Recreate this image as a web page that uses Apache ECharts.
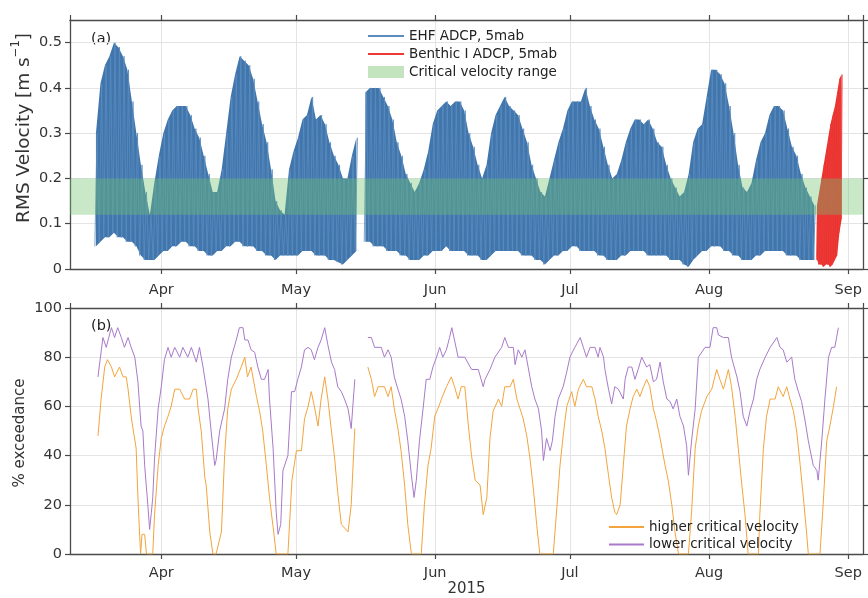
<!DOCTYPE html>
<html><head><meta charset="utf-8">
<script src="https://cdn.jsdelivr.net/npm/echarts@6.0.0/dist/echarts.min.js"></script>
<style>html,body{margin:0;padding:0;background:#fff}#c{width:868px;height:598px}</style>
</head><body><div id="c"></div>
<script>
// day numbers are days since 2015-03-01 00:00 UTC
const DAY0 = Date.UTC(2015, 2, 1);
const axisStartDay = 10.67, axisEndDay = 187.28;

// EHF ADCP (blue): one daily envelope value pair per day, starting day 16.2
const blueStartDay = 16.2;
const blueMax = [
 0.30,0.41,0.45,0.47,0.50,0.49,0.47,0.44,0.37,0.30,
 0.23,0.17,0.12,0.19,0.25,0.30,0.33,0.35,0.36,0.36,
 0.36,0.34,0.31,0.29,0.25,0.21,0.17,0.17,0.22,0.30,
 0.38,0.43,0.47,0.46,0.45,0.42,0.37,0.32,0.28,0.22,
 0.15,0.13,0.12,0.22,0.26,0.29,0.33,0.34,0.38,0.33,
 0.34,0.32,0.28,0.25,0.23,0.20,0.20,0.25,0.29,null,
 0.39,0.40,0.40,0.40,0.38,0.36,0.33,0.28,0.25,0.21,
 0.19,0.17,0.19,0.22,0.26,0.32,0.35,0.36,0.37,0.36,
 0.37,0.37,0.35,0.30,0.27,0.23,0.20,0.23,0.30,0.34,
 0.36,0.38,0.36,0.35,0.34,0.31,0.28,0.23,0.20,0.17,
 0.16,0.20,0.24,0.28,0.31,0.35,0.37,0.37,0.37,0.40,
 0.36,0.33,0.31,0.27,0.23,0.20,0.21,0.24,0.28,0.31,
 0.33,0.33,0.32,0.33,0.31,0.28,0.27,0.23,0.20,0.18,
 0.16,0.17,0.21,0.28,0.31,0.32,0.38,0.44,0.44,0.43,
 0.41,0.36,0.30,0.23,0.18,0.17,0.19,0.24,0.28,0.30,
 0.34,0.36,0.36,0.35,0.31,0.27,0.25,0.21,0.18,0.16,
 0.14];
const blueMin = [
 0.05,0.06,0.07,0.07,0.08,0.07,0.07,0.06,0.06,0.05,
 0.03,0.02,0.02,0.02,0.03,0.04,0.04,0.05,0.05,0.06,
 0.06,0.05,0.05,0.04,0.04,0.03,0.03,0.04,0.04,0.05,
 0.05,0.06,0.06,0.05,0.05,0.05,0.04,0.04,0.03,0.03,
 0.02,0.03,0.03,0.03,0.03,0.03,0.04,0.04,0.04,0.03,
 0.03,0.03,0.02,0.02,0.015,0.01,0.02,0.03,0.04,null,
 0.06,0.06,0.05,0.05,0.05,0.04,0.04,0.04,0.03,0.03,
 0.02,0.02,0.02,0.03,0.03,0.04,0.04,0.04,0.05,0.04,
 0.04,0.04,0.04,0.03,0.03,0.03,0.02,0.02,0.03,0.04,
 0.04,0.04,0.04,0.04,0.04,0.03,0.03,0.03,0.02,0.02,
 0.01,0.02,0.03,0.03,0.04,0.04,0.05,0.05,0.04,0.04,
 0.04,0.04,0.03,0.03,0.02,0.02,0.02,0.03,0.03,0.04,
 0.04,0.04,0.04,0.03,0.03,0.03,0.03,0.03,0.02,0.02,
 0.02,0.01,0.005,0.02,0.03,0.04,0.04,0.05,0.05,0.05,
 0.04,0.04,0.03,0.03,0.02,0.02,0.02,0.03,0.03,0.04,
 0.04,0.04,0.04,0.04,0.03,0.03,0.03,0.02,0.02,0.02,
 0.02];

// Benthic I ADCP (red): half-day envelope values
const redStartDay = 176.9, redStep = 0.5;
const redMax = [0.14,0.17,0.20,0.23,0.26,0.29,0.32,0.34,0.36,0.39,0.42,0.43];
const redMin = [0.02,0.01,0.01,0.005,0.01,0.01,0.005,0.01,0.02,0.03,0.08,0.11];

const criticalRange = [0.12, 0.20];

// % exceedance, [day, value]
const higherCritical = [[16.9,48],[17.6,63],[18.4,76],[19.0,79],[19.9,76],[20.6,72],[21.7,76],[22.5,72],[23.2,72],[23.6,67],[24.3,56],[24.7,51],[25.1,51],[25.4,43],[25.8,23],[26.2,7],[26.4,0],[26.7,8],[27.3,8],[27.7,0],[29.1,0],[29.5,16],[30.3,36],[31.0,47],[31.7,52],[32.5,56],[33.2,60],[34.0,67],[35.1,67],[36.2,63],[37.3,63],[38.1,67],[38.8,67],[39.2,59],[39.9,50],[40.7,31],[41.0,28],[41.8,9],[42.5,0],[43.2,0],[44.4,9],[45.1,40],[45.8,59],[46.6,67],[47.7,71],[48.8,76],[49.6,80],[50.2,72],[51.0,76],[51.8,68],[52.2,64],[52.9,58],[53.6,50],[54.4,36],[55.1,23],[55.9,11],[56.6,0],[59.2,0],[60.1,30],[61.1,42],[62.2,42],[62.9,55],[63.7,60],[64.4,66],[65.1,60],[65.9,52],[66.6,63],[67.4,72],[68.1,63],[68.9,50],[69.6,39],[70.3,25],[71.1,12],[72.6,9],[73.3,20],[74.1,51],[75.5,null],[77.0,76],[77.8,71],[78.5,64],[79.3,68],[80.7,68],[81.5,64],[82.2,68],[82.9,59],[83.7,51],[84.4,42],[85.2,28],[85.9,12],[86.7,0],[88.9,0],[89.6,20],[90.4,36],[91.1,43],[91.9,56],[92.6,59],[93.4,63],[94.5,68],[95.6,72],[96.3,68],[97.1,63],[97.8,68],[98.6,68],[99.4,52],[100.1,40],[100.9,30],[102.0,28],[102.7,16],[103.5,23],[104.2,47],[104.9,58],[106.1,63],[106.8,60],[107.5,68],[108.7,68],[109.4,71],[110.2,63],[110.9,59],[111.6,55],[112.4,48],[113.1,39],[113.9,26],[114.6,12],[115.3,0],[118.3,0],[119.1,19],[119.8,36],[120.5,48],[121.3,60],[122.4,66],[123.1,60],[123.9,67],[125.0,71],[125.7,68],[126.9,68],[127.6,63],[128.3,56],[129.1,50],[129.8,43],[130.6,32],[131.3,23],[132.0,17],[132.4,16],[133.2,20],[133.9,36],[134.6,52],[135.4,59],[136.1,64],[136.9,67],[137.6,64],[138.4,68],[139.1,71],[139.8,68],[140.6,59],[141.3,54],[142.1,47],[143.2,36],[143.9,30],[144.7,20],[145.4,9],[146.2,0],[148.4,0],[149.1,17],[149.9,43],[150.6,52],[151.3,58],[152.5,64],[153.6,67],[154.7,75],[155.4,71],[156.2,67],[157.3,75],[158.0,68],[158.8,56],[159.5,43],[160.3,28],[161.0,16],[161.7,0],[164.0,0],[164.3,16],[165.1,43],[165.8,56],[166.6,63],[167.7,63],[168.4,68],[169.5,64],[170.3,68],[171.0,63],[171.8,58],[172.5,50],[173.3,36],[174.0,23],[174.7,9],[175.1,0],[177.7,0],[178.4,20],[179.2,46],[179.9,52],[180.7,60],[181.4,68]];

const lowerCritical = [[16.9,72],[18.0,88],[18.75,84],[19.3,88],[19.9,92],[20.6,88],[21.3,92],[22.1,88],[22.8,84],[23.6,88],[24.3,84],[25.1,80],[25.8,70],[26.5,52],[26.9,50],[27.3,36],[28.0,20],[28.4,10],[28.8,17],[29.1,23],[29.5,39],[30.3,59],[31.0,68],[31.7,79],[32.5,84],[33.2,80],[34.0,84],[35.1,80],[35.8,84],[36.9,80],[37.7,84],[38.8,78],[39.5,84],[40.3,76],[41.4,63],[42.1,50],[42.9,36],[43.2,38],[44.0,50],[45.1,59],[45.8,71],[46.6,80],[47.7,87],[48.4,92],[49.2,92],[49.6,87],[50.3,87],[51.0,83],[51.8,82],[52.5,76],[53.3,71],[54.0,71],[54.8,75],[55.1,63],[55.9,43],[56.6,17],[57.0,8],[57.6,12],[58.1,34],[59.2,40],[60.0,66],[60.7,66],[61.4,71],[62.2,76],[62.9,83],[63.7,84],[64.4,83],[65.1,79],[65.9,84],[66.6,87],[67.4,92],[68.1,85],[68.9,78],[69.6,75],[70.3,68],[71.1,66],[71.8,63],[72.6,59],[73.3,51],[74.1,71],[75.5,null],[77.0,88],[77.8,88],[78.5,84],[80.0,84],[80.7,80],[81.5,83],[82.2,80],[82.9,72],[83.7,67],[84.4,63],[85.2,56],[85.9,46],[86.7,32],[87.3,23],[87.8,30],[88.5,46],[89.3,59],[90.0,71],[90.8,71],[91.5,76],[92.3,80],[93.0,84],[93.7,80],[94.5,83],[95.2,88],[95.7,92],[96.3,87],[97.1,80],[97.8,80],[98.6,80],[100.1,75],[101.6,75],[102.7,68],[103.1,71],[104.2,75],[105.3,80],[106.8,84],[107.5,88],[108.3,84],[109.4,84],[109.8,77],[110.5,83],[111.3,80],[112.0,83],[112.7,76],[113.5,68],[114.2,63],[115.0,59],[115.7,50],[116.1,38],[116.8,47],[117.6,42],[118.1,46],[118.7,56],[119.4,63],[120.5,68],[121.3,74],[122.0,80],[123.1,84],[124.3,88],[125.0,84],[125.7,80],[126.5,84],[127.6,84],[128.3,80],[128.7,84],[129.5,80],[129.8,75],[130.6,67],[131.3,61],[132.0,68],[132.8,67],[133.9,63],[134.3,71],[135.0,76],[135.8,76],[136.5,71],[137.2,75],[138.0,80],[139.1,76],[139.8,77],[140.6,70],[141.3,71],[142.1,78],[142.8,70],[143.6,63],[144.3,62],[145.0,59],[145.8,63],[146.5,56],[147.3,52],[148.0,44],[148.4,32],[149.1,46],[149.9,59],[150.6,80],[152.1,84],[153.2,84],[153.9,92],[154.7,92],[155.1,89],[156.2,88],[157.3,88],[158.0,80],[159.2,72],[159.9,66],[160.6,56],[161.4,52],[162.1,58],[162.9,63],[163.6,71],[164.3,75],[165.5,80],[166.6,84],[168.1,88],[168.8,84],[169.5,83],[170.3,78],[171.4,80],[172.1,71],[172.9,66],[173.6,62],[174.4,54],[175.1,46],[176.2,36],[177.0,34],[177.3,30],[178.1,46],[178.8,63],[179.6,80],[180.3,84],[181.0,84],[181.8,92]];

// ---------- build ----------
const t = d => DAY0 + d * 864e5;
function zig(start, step, mins, maxs) {
  const out = [];
  for (let i = 0; i < maxs.length; i++) {
    out.push([t(start + i * step), mins[i]]);
    out.push([t(start + i * step + step / 2), maxs[i]]);
  }
  return out;
}
function band(start, step, mins, maxs) {
  const lo = [], hi = [];
  for (let i = 0; i < maxs.length; i++) {
    const x = t(start + i * step + step / 4);
    lo.push([x, mins[i]]);
    hi.push([x, (maxs[i] == null || mins[i] == null) ? null : +(maxs[i] - mins[i]).toFixed(4)]);
  }
  return [lo, hi];
}
const pairs = arr => arr.map(p => [t(p[0]), p[1]]);

const BLUE = '#4176ad', RED = '#e8322f', ORANGE = '#f3a43c', PURPLE = '#a97acb';
const FONT = 'DejaVu Sans';
const [bLo, bHi] = band(blueStartDay, 1, blueMin, blueMax);
const [rLo, rHi] = band(redStartDay, redStep, redMin, redMax);

function xAx(grid, pos, labels, margin) {
  return {
    type: 'time', gridIndex: grid, position: pos, min: t(axisStartDay), max: t(axisEndDay),
    splitNumber: 6, minInterval: 28 * 864e5, maxInterval: 31 * 864e5,
    axisLine: { show: true, onZero: false, lineStyle: { color: '#4a4a4a', width: 1.3 } },
    axisTick: { show: true, inside: false, length: 5, lineStyle: { color: '#4a4a4a', width: 1.2 } },
    axisLabel: { show: labels, formatter: '{MMM}', fontFamily: FONT, fontSize: 14.5, color: '#333', margin: margin || 8,
      showMinLabel: false, showMaxLabel: false },
    splitLine: { show: labels, lineStyle: { color: '#e4e4e4', width: 1 } },
    minorTick: { show: false }
  };
}
function yAx(grid, pos, max, interval, labels) {
  return {
    type: 'value', gridIndex: grid, position: pos, min: 0, max: max, interval: interval,
    axisLine: { show: true, onZero: false, lineStyle: { color: '#4a4a4a', width: 1.3 } },
    axisTick: { show: true, inside: false, length: 5, lineStyle: { color: '#4a4a4a', width: 1.2 } },
    axisLabel: { show: labels, fontFamily: FONT, fontSize: 14.5, color: '#333', margin: 8, showMaxLabel: max === 100 },
    splitLine: { show: labels, lineStyle: { color: '#e4e4e4', width: 1 } }
  };
}
const noSym = { opacity: 0 };

const chart = echarts.init(document.getElementById('c'), null, { renderer: 'canvas' });
chart.setOption({
  animation: false,
  useUTC: true,
  backgroundColor: '#fff',
  grid: [
    { left: 70, top: 20, width: 793, height: 249 },
    { left: 70, top: 308, width: 793, height: 248.7 }
  ],
  xAxis: [
    xAx(0, 'bottom', true, 14), xAx(0, 'top', false),
    Object.assign(xAx(1, 'bottom', true, 12), { name: '2015', nameLocation: 'middle', nameGap: 28,
      nameTextStyle: { fontFamily: FONT, fontSize: 15, color: '#333' } }),
    xAx(1, 'top', false)
  ],
  yAxis: [
    yAx(0, 'left', 0.55, 0.1, true), yAx(0, 'right', 0.55, 0.1, false),
    yAx(1, 'left', 100, 20, true), yAx(1, 'right', 100, 20, false)
  ],
  legend: [
    { left: 367, top: 29, padding: 0, orient: 'vertical', itemWidth: 36, itemHeight: 12, itemGap: 4,
      textStyle: { fontFamily: FONT, fontSize: 13.5, color: '#222' },
      data: [{ name: 'EHF ADCP, 5mab', itemStyle: noSym }, { name: 'Benthic I ADCP, 5mab', itemStyle: noSym },
             { name: 'Critical velocity range', icon: 'rect', itemStyle: { color: '#c3e4bf' } }] },
    { left: 608, top: 520, padding: 0, orient: 'vertical', itemWidth: 35, itemHeight: 12, itemGap: 3.5,
      textStyle: { fontFamily: FONT, fontSize: 13.5, color: '#222' },
      data: [{ name: 'higher critical velocity', itemStyle: noSym }, { name: 'lower critical velocity', itemStyle: noSym }] }
  ],
  graphic: [
    { type: 'text', left: 91, top: 32, style: { text: '(a)', fontFamily: FONT, fontSize: 14.5, fill: '#222' } },
    { type: 'text', left: 91, top: 319, style: { text: '(b)', fontFamily: FONT, fontSize: 14.5, fill: '#222' } },
    { type: 'text', x: 24, y: 128, rotation: Math.PI / 2,
      style: { text: 'RMS Velocity [m s{sup|−1}]', fontFamily: FONT, fontSize: 18.5, fill: '#333', align: 'center', verticalAlign: 'middle',
        rich: { sup: { fontFamily: FONT, fontSize: 11.5, fill: '#333', verticalAlign: 'top', lineHeight: 27 } } } },
    { type: 'text', x: 20, y: 433, rotation: Math.PI / 2,
      style: { text: '% exceedance', fontFamily: FONT, fontSize: 15, fill: '#333', align: 'center', verticalAlign: 'middle' } }
  ],
  series: [
    { name: '_blueLo', type: 'line', xAxisIndex: 0, yAxisIndex: 0, stack: 'blue', data: bLo, symbol: 'none',
      lineStyle: { opacity: 0 }, silent: true, z: 1 },
    { name: '_blueHi', type: 'line', xAxisIndex: 0, yAxisIndex: 0, stack: 'blue', data: bHi, symbol: 'none',
      lineStyle: { opacity: 0 }, areaStyle: { color: BLUE, opacity: 1 }, silent: true, z: 1 },
    { name: 'EHF ADCP, 5mab', type: 'line', xAxisIndex: 0, yAxisIndex: 0, data: zig(blueStartDay, 1, blueMin, blueMax),
      symbol: 'none', color: '#6a8fb5', lineStyle: { width: 0.8, color: '#5b8cbf' }, z: 2 },
    { name: '_redLo', type: 'line', xAxisIndex: 0, yAxisIndex: 0, stack: 'red', data: rLo, symbol: 'none',
      lineStyle: { opacity: 0 }, silent: true, z: 3 },
    { name: '_redHi', type: 'line', xAxisIndex: 0, yAxisIndex: 0, stack: 'red', data: rHi, symbol: 'none',
      lineStyle: { opacity: 0 }, areaStyle: { color: RED, opacity: 1 }, silent: true, z: 3 },
    { name: 'Benthic I ADCP, 5mab', type: 'line', xAxisIndex: 0, yAxisIndex: 0, data: zig(redStartDay, redStep, redMin, redMax),
      symbol: 'none', color: '#e25555', lineStyle: { width: 0.8, color: '#ee3a36' }, z: 4 },
    { name: 'Critical velocity range', type: 'line', xAxisIndex: 0, yAxisIndex: 0, data: [], symbol: 'none',
      color: '#c3e4bf', z: 10,
      markArea: { silent: true, z: 10, itemStyle: { color: 'rgba(110,195,110,0.38)' },
        data: [[{ yAxis: criticalRange[0] }, { yAxis: criticalRange[1] }]] } },
    { name: 'higher critical velocity', type: 'line', xAxisIndex: 2, yAxisIndex: 2, data: pairs(higherCritical),
      symbol: 'none', color: ORANGE, lineStyle: { width: 1, color: ORANGE } },
    { name: 'lower critical velocity', type: 'line', xAxisIndex: 2, yAxisIndex: 2, data: pairs(lowerCritical),
      symbol: 'none', color: PURPLE, lineStyle: { width: 1, color: PURPLE } }
  ]
});
</script></body></html>
